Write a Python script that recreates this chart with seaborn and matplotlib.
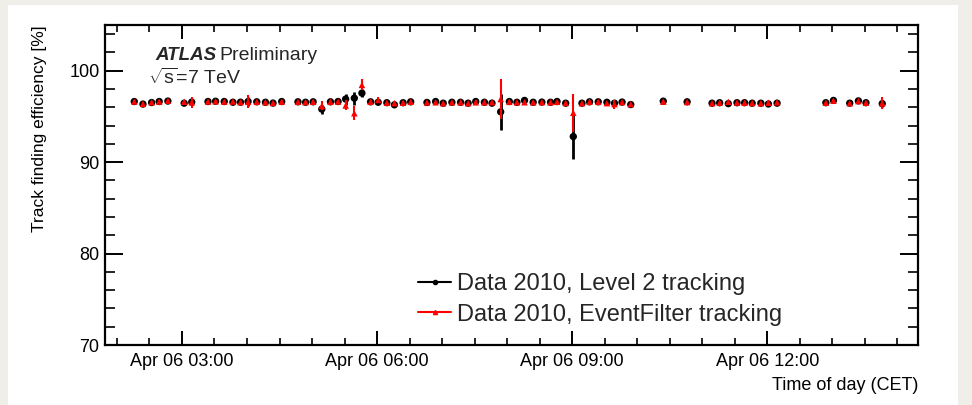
import numpy as np
import pandas as pd
import matplotlib
matplotlib.use("Agg")
import matplotlib.pyplot as plt
import matplotlib.dates as mdates
from matplotlib.lines import Line2D
from matplotlib.patches import Rectangle
import seaborn as sns

# ---- data ----
times = ["02:16", "02:24", "02:32", "02:39", "02:47", "03:02", "03:09", "03:24", "03:31", "03:39",
         "03:47", "03:54", "04:01", "04:09", "04:17", "04:24", "04:32", "04:47", "04:54", "05:01",
         "05:09", "05:17", "05:24", "05:31", "05:39", "05:46", "05:54", "06:01", "06:09", "06:16",
         "06:24", "06:31", "06:46", "06:54", "07:01", "07:09", "07:17", "07:24", "07:31", "07:39",
         "07:46", "07:54", "08:02", "08:09", "08:16", "08:24", "08:32", "08:40", "08:46", "08:54",
         "09:01", "09:09", "09:16", "09:24", "09:32", "09:39", "09:46", "09:54", "10:24", "10:46",
         "11:09", "11:16", "11:24", "11:32", "11:39", "11:46", "11:54", "12:01", "12:09", "12:54",
         "13:01", "13:16", "13:24", "13:31", "13:46"]

level2_eff = [96.63, 96.35, 96.52, 96.63, 96.68, 96.45, 96.57, 96.63, 96.66, 96.63,
              96.55, 96.56, 96.63, 96.60, 96.55, 96.46, 96.63, 96.60, 96.55, 96.60,
              95.80, 96.60, 96.63, 96.90, 97.00, 97.55, 96.60, 96.55, 96.50, 96.27,
              96.50, 96.60, 96.53, 96.63, 96.45, 96.55, 96.55, 96.45, 96.63, 96.55,
              96.45, 95.50, 96.63, 96.55, 96.75, 96.55, 96.57, 96.55, 96.63, 96.45,
              92.80, 96.45, 96.60, 96.60, 96.55, 96.45, 96.57, 96.30, 96.67, 96.60,
              96.45, 96.50, 96.40, 96.50, 96.50, 96.45, 96.45, 96.36, 96.45, 96.50,
              96.75, 96.45, 96.70, 96.50, 96.40]

level2_err = [0.15, 0.15, 0.15, 0.15, 0.15, 0.15, 0.30, 0.15, 0.15, 0.15,
              0.15, 0.15, 0.50, 0.15, 0.15, 0.15, 0.15, 0.15, 0.15, 0.15,
              0.50, 0.15, 0.15, 0.60, 0.70, 0.40, 0.15, 0.15, 0.15, 0.15,
              0.15, 0.15, 0.15, 0.15, 0.15, 0.15, 0.15, 0.15, 0.15, 0.15,
              0.15, 2.00, 0.15, 0.15, 0.15, 0.15, 0.15, 0.15, 0.15, 0.15,
              2.50, 0.15, 0.15, 0.15, 0.30, 0.15, 0.15, 0.15, 0.15, 0.15,
              0.15, 0.15, 0.15, 0.15, 0.15, 0.15, 0.15, 0.15, 0.15, 0.15,
              0.15, 0.15, 0.15, 0.15, 0.40]

ef_eff = [96.63, 96.38, 96.55, 96.62, 96.72, 96.60, 96.55, 96.63, 96.66, 96.62,
          96.63, 96.56, 96.60, 96.60, 96.55, 96.48, 96.62, 96.60, 96.57, 96.60,
          96.15, 96.60, 96.63, 96.20, 95.35, 98.45, 96.60, 96.80, 96.50, 96.45,
          96.50, 96.60, 96.53, 96.55, 96.45, 96.55, 96.55, 96.45, 96.55, 96.55,
          96.55, 96.90, 96.60, 96.55, 96.55, 96.55, 96.57, 96.55, 96.60, 96.48,
          95.40, 96.45, 96.60, 96.60, 96.45, 96.35, 96.57, 96.35, 96.62, 96.58,
          96.45, 96.50, 96.60, 96.52, 96.50, 96.47, 96.45, 96.50, 96.55, 96.50,
          96.72, 96.45, 96.68, 96.50, 96.45]

ef_err = [0.15, 0.15, 0.15, 0.15, 0.15, 0.15, 0.60, 0.15, 0.15, 0.15,
          0.15, 0.15, 0.70, 0.15, 0.15, 0.15, 0.15, 0.15, 0.15, 0.15,
          0.50, 0.15, 0.15, 0.55, 0.75, 0.60, 0.15, 0.30, 0.15, 0.15,
          0.15, 0.15, 0.15, 0.15, 0.15, 0.15, 0.15, 0.15, 0.30, 0.15,
          0.15, 2.20, 0.15, 0.15, 0.15, 0.15, 0.15, 0.15, 0.15, 0.15,
          2.10, 0.15, 0.15, 0.15, 0.15, 0.50, 0.15, 0.15, 0.15, 0.15,
          0.15, 0.15, 0.15, 0.15, 0.15, 0.15, 0.15, 0.15, 0.15, 0.15,
          0.15, 0.15, 0.15, 0.15, 0.65]

series_labels = ["Data 2010, Level 2 tracking", "Data 2010, EventFilter tracking"]
y_ticks = [70, 80, 90, 100]

# ---- build frames ----
t = pd.to_datetime(["2010-04-06 " + s for s in times])
df = pd.DataFrame({
    "time": list(t) * 2,
    "eff": level2_eff + ef_eff,
    "err": level2_err + ef_err,
    "series": [series_labels[0]] * len(times) + [series_labels[1]] * len(times),
})

sns.set_theme(style="ticks")
plt.rcParams["font.family"] = ["Liberation Sans", "DejaVu Sans"]
plt.rcParams["mathtext.fontset"] = "custom"
plt.rcParams["mathtext.rm"] = "Liberation Sans"
plt.rcParams["mathtext.it"] = "Liberation Sans:italic"
plt.rcParams["mathtext.bf"] = "Liberation Sans:bold"

fig = plt.figure(figsize=(9.72, 4.05), dpi=100)
fig.patch.set_facecolor("#efeee8")
fig.add_artist(Rectangle((8 / 972, 0), (958 - 8) / 972, 1 - 5 / 405,
                         transform=fig.transFigure, facecolor="white",
                         edgecolor="none", zorder=-10))

ax = fig.add_axes([105 / 972, 1 - 345 / 405, (918 - 105) / 972, (345 - 25) / 405])
ax.set_facecolor("white")

colors = {series_labels[0]: "black", series_labels[1]: "red"}
markers = {series_labels[0]: "o", series_labels[1]: "^"}
sizes = {series_labels[0]: 28, series_labels[1]: 22}
ewidth = {series_labels[0]: 2.0, series_labels[1]: 1.5}

for i, lab in enumerate(series_labels):
    sub = df[df["series"] == lab]
    ax.errorbar(sub["time"], sub["eff"], yerr=sub["err"], fmt="none",
                ecolor=colors[lab], elinewidth=ewidth[lab], capsize=0, zorder=2 + 2 * i)
    sns.scatterplot(data=sub, x="time", y="eff", color=colors[lab], marker=markers[lab],
                    s=sizes[lab], edgecolor="none", linewidth=0, ax=ax, legend=False,
                    zorder=3 + 2 * i)

# axes ranges
ax.set_xlim(pd.Timestamp("2010-04-06 01:49"), pd.Timestamp("2010-04-06 14:19"))
ax.set_ylim(70, 105)
ax.set_yticks(y_ticks)
ax.yaxis.set_minor_locator(matplotlib.ticker.MultipleLocator(2))
ax.xaxis.set_major_locator(mdates.HourLocator(byhour=[3, 6, 9, 12]))
ax.xaxis.set_minor_locator(mdates.MinuteLocator(byminute=[0, 30]))
ax.xaxis.set_major_formatter(mdates.DateFormatter("%b %d %H:%M"))

for s in ax.spines.values():
    s.set_linewidth(1.6)
    s.set_color("black")
ax.tick_params(axis="both", which="both", direction="in", top=True, right=True,
               colors="black", labelsize=13)
ax.tick_params(axis="x", which="major", length=10, width=1.4, pad=6)
ax.tick_params(axis="x", which="minor", length=5, width=1.2)
ax.tick_params(axis="y", which="major", length=13, width=1.4, pad=4)
ax.tick_params(axis="y", which="minor", length=7, width=1.2)

ax.set_xlabel("Time of day (CET)", fontsize=13, loc="right", labelpad=5, color="black")
ax.set_ylabel("Track finding efficiency [%]", fontsize=12.5, loc="top", labelpad=16, color="black")

ax.text(155 / 972, 1 - 55 / 405, "ATLAS", transform=fig.transFigure, fontsize=13.5,
        fontweight="bold", fontstyle="italic", va="center", ha="left")
ax.text(219 / 972, 1 - 55 / 405, "Preliminary", transform=fig.transFigure, fontsize=14,
        va="center", ha="left")
ax.text(148 / 972, 1 - 78 / 405, r"$\sqrt{\mathrm{s}}$=7 TeV", transform=fig.transFigure,
        fontsize=14, va="center", ha="left")

handles = [Line2D([0], [0], color="black", lw=1.5, marker="o", ms=3),
           Line2D([0], [0], color="red", lw=1.5, marker="^", ms=3)]
ax.legend(handles, series_labels, loc="upper left", bbox_to_anchor=(418 / 972, 1 - 273 / 405),
          bbox_transform=fig.transFigure, frameon=False, fontsize=17, handlelength=1.4,
          handletextpad=0.25, labelspacing=0.36, borderpad=0, borderaxespad=0)

fig.savefig("out.png", dpi=100, facecolor=fig.get_facecolor())
